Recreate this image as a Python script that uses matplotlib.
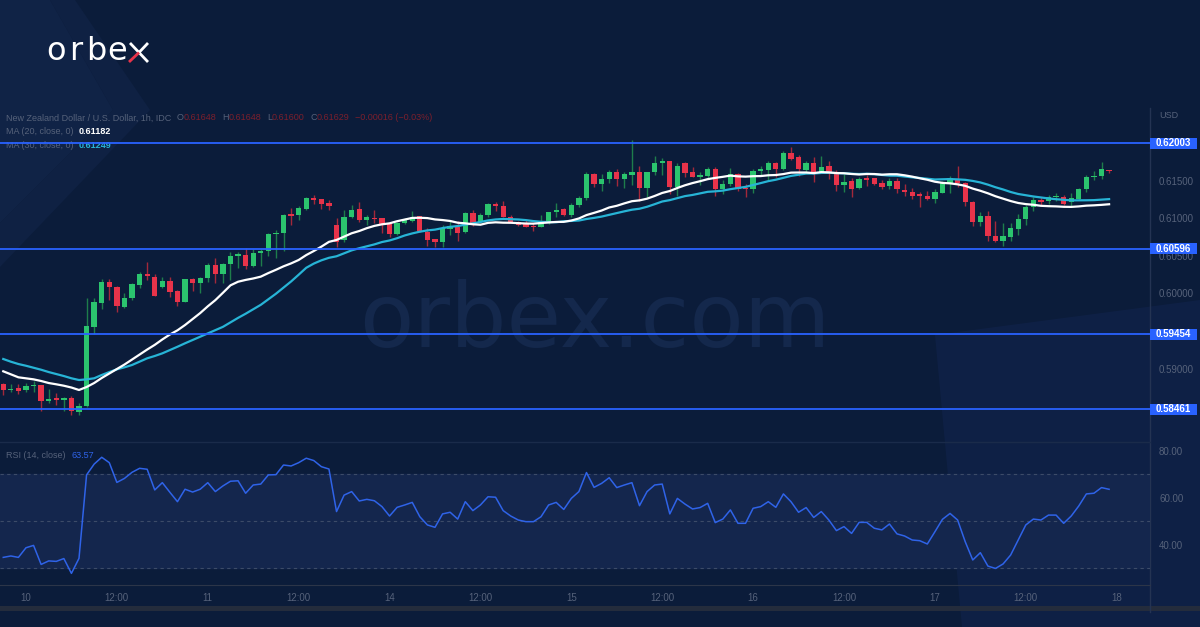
import numpy as np
import pandas as pd
import matplotlib
matplotlib.use("Agg")
import matplotlib.pyplot as plt
from matplotlib.patches import Polygon, Rectangle
from matplotlib.lines import Line2D

plt.rcParams['font.family'] = ['Liberation Sans', 'DejaVu Sans']

# NZD/USD, 1h candles (first three bars belong to the evening before the 10th)
open_ = [0.58794, 0.58710, 0.58736, 0.58710, 0.58767, 0.58780, 0.58571, 0.58603, 0.58581, 0.58603,
         0.58425, 0.58501, 0.59557, 0.59876, 0.60156, 0.60089, 0.59823, 0.59935, 0.60112, 0.60258,
         0.60223, 0.60089, 0.60165, 0.60032, 0.59890, 0.60188, 0.60143, 0.60201, 0.60378, 0.60254,
         0.60388, 0.60498, 0.60507, 0.60365, 0.60534, 0.60565, 0.60787, 0.60800, 0.61053, 0.61044,
         0.61124, 0.61274, 0.61253, 0.61208, 0.60911, 0.60711, 0.61021, 0.61124, 0.60977, 0.61008,
         0.61000, 0.60920, 0.60787, 0.60934, 0.60968, 0.61035, 0.60822, 0.60721, 0.60689, 0.60854,
         0.60888, 0.60822, 0.61075, 0.60955, 0.61044, 0.61191, 0.61164, 0.61013, 0.60951, 0.60934,
         0.60902, 0.60888, 0.60955, 0.61080, 0.61120, 0.61044, 0.61177, 0.61266, 0.61590, 0.61453,
         0.61519, 0.61621, 0.61523, 0.61577, 0.61621, 0.61408, 0.61617, 0.61733, 0.61763, 0.61421,
         0.61733, 0.61621, 0.61546, 0.61567, 0.61653, 0.61386, 0.61457, 0.61590, 0.61408, 0.61386,
         0.61630, 0.61643, 0.61733, 0.61657, 0.61874, 0.61820, 0.61643, 0.61733, 0.61607, 0.61697,
         0.61586, 0.61444, 0.61497, 0.61400, 0.61533, 0.61533, 0.61466, 0.61430, 0.61497, 0.61377,
         0.61354, 0.61320, 0.61301, 0.61257, 0.61341, 0.61466, 0.61523, 0.61466, 0.61221, 0.60947,
         0.61031, 0.60768, 0.60702, 0.60755, 0.60854, 0.60987, 0.61147, 0.61244, 0.61235, 0.61280,
         0.61280, 0.61221, 0.61257, 0.61390, 0.61554, 0.61563, 0.61648]
high = [0.58807, 0.58794, 0.58794, 0.58811, 0.58834, 0.58780, 0.58727, 0.58670, 0.58617, 0.58638,
        0.58537, 0.59935, 0.59935, 0.60188, 0.60188, 0.60099, 0.60001, 0.60135, 0.60289, 0.60422,
        0.60254, 0.60223, 0.60223, 0.60045, 0.60192, 0.60201, 0.60223, 0.60401, 0.60468, 0.60409,
        0.60555, 0.60555, 0.60601, 0.60587, 0.60587, 0.60800, 0.60844, 0.61057, 0.61133, 0.61164,
        0.61288, 0.61310, 0.61253, 0.61244, 0.61000, 0.61111, 0.61177, 0.61221, 0.61044, 0.61111,
        0.61000, 0.60920, 0.60955, 0.61000, 0.61101, 0.61035, 0.60867, 0.60721, 0.60911, 0.60964,
        0.60964, 0.61088, 0.61111, 0.61067, 0.61200, 0.61213, 0.61227, 0.61044, 0.60968, 0.60977,
        0.60934, 0.61044, 0.61088, 0.61208, 0.61141, 0.61208, 0.61297, 0.61621, 0.61599, 0.61586,
        0.61643, 0.61653, 0.61621, 0.62043, 0.61697, 0.61621, 0.61830, 0.61799, 0.61763, 0.61733,
        0.61754, 0.61687, 0.61621, 0.61687, 0.61687, 0.61510, 0.61674, 0.61607, 0.61453, 0.61653,
        0.61697, 0.61763, 0.61754, 0.61896, 0.61946, 0.61843, 0.61763, 0.61812, 0.61830, 0.61763,
        0.61643, 0.61586, 0.61541, 0.61550, 0.61577, 0.61533, 0.61510, 0.61533, 0.61533, 0.61453,
        0.61400, 0.61354, 0.61364, 0.61390, 0.61497, 0.61563, 0.61697, 0.61480, 0.61235, 0.61088,
        0.61097, 0.60964, 0.60934, 0.60934, 0.61053, 0.61177, 0.61288, 0.61288, 0.61310, 0.61333,
        0.61310, 0.61333, 0.61408, 0.61577, 0.61634, 0.61746, 0.61648]
low = [0.58647, 0.58687, 0.58661, 0.58683, 0.58687, 0.58438, 0.58541, 0.58514, 0.58438, 0.58381,
       0.58381, 0.58483, 0.59460, 0.59788, 0.59912, 0.59756, 0.59802, 0.59912, 0.60068, 0.60179,
       0.59966, 0.60068, 0.59948, 0.59832, 0.59882, 0.60036, 0.60009, 0.60156, 0.60135, 0.60135,
       0.60179, 0.60334, 0.60321, 0.60348, 0.60365, 0.60498, 0.60468, 0.60569, 0.60911, 0.60977,
       0.61111, 0.61187, 0.61120, 0.61111, 0.60622, 0.60689, 0.61000, 0.60955, 0.60911, 0.60934,
       0.60800, 0.60755, 0.60778, 0.60920, 0.60955, 0.60822, 0.60631, 0.60614, 0.60614, 0.60778,
       0.60702, 0.60800, 0.60898, 0.60934, 0.61021, 0.61101, 0.61013, 0.60947, 0.60898, 0.60880,
       0.60835, 0.60888, 0.60924, 0.61021, 0.61035, 0.61021, 0.61147, 0.61244, 0.61413, 0.61368,
       0.61466, 0.61430, 0.61400, 0.61444, 0.61235, 0.61288, 0.61577, 0.61577, 0.61324, 0.61297,
       0.61554, 0.61546, 0.61444, 0.61533, 0.61301, 0.61324, 0.61430, 0.61368, 0.61288, 0.61333,
       0.61577, 0.61510, 0.61546, 0.61643, 0.61776, 0.61567, 0.61607, 0.61487, 0.61599, 0.61519,
       0.61368, 0.61354, 0.61288, 0.61390, 0.61430, 0.61444, 0.61386, 0.61386, 0.61333, 0.61301,
       0.61253, 0.61155, 0.61244, 0.61208, 0.61333, 0.61341, 0.61413, 0.61164, 0.60902, 0.60898,
       0.60702, 0.60689, 0.60631, 0.60702, 0.60778, 0.60911, 0.61101, 0.61177, 0.61191, 0.61235,
       0.61177, 0.61164, 0.61244, 0.61354, 0.61510, 0.61523, 0.61600]
close = [0.58714, 0.58727, 0.58704, 0.58771, 0.58780, 0.58571, 0.58594, 0.58581, 0.58603, 0.58438,
         0.58505, 0.59566, 0.59886, 0.60156, 0.60081, 0.59832, 0.59935, 0.60121, 0.60254, 0.60232,
         0.59966, 0.60165, 0.60023, 0.59890, 0.60188, 0.60143, 0.60201, 0.60378, 0.60254, 0.60388,
         0.60498, 0.60525, 0.60365, 0.60542, 0.60569, 0.60787, 0.60804, 0.61044, 0.61035, 0.61141,
         0.61274, 0.61244, 0.61187, 0.61168, 0.60689, 0.61021, 0.61111, 0.60977, 0.61013, 0.60995,
         0.60911, 0.60787, 0.60934, 0.60977, 0.61013, 0.60831, 0.60711, 0.60689, 0.60867, 0.60898,
         0.60808, 0.61075, 0.60942, 0.61044, 0.61187, 0.61168, 0.61013, 0.60955, 0.60911, 0.60888,
         0.60888, 0.60955, 0.61080, 0.61111, 0.61044, 0.61177, 0.61266, 0.61590, 0.61457, 0.61519,
         0.61621, 0.61523, 0.61586, 0.61621, 0.61408, 0.61621, 0.61733, 0.61763, 0.61421, 0.61697,
         0.61607, 0.61546, 0.61577, 0.61653, 0.61386, 0.61457, 0.61590, 0.61390, 0.61390, 0.61630,
         0.61653, 0.61733, 0.61657, 0.61874, 0.61790, 0.61657, 0.61733, 0.61607, 0.61687, 0.61607,
         0.61444, 0.61487, 0.61386, 0.61519, 0.61510, 0.61453, 0.61421, 0.61497, 0.61386, 0.61354,
         0.61301, 0.61301, 0.61257, 0.61354, 0.61480, 0.61533, 0.61466, 0.61213, 0.60947, 0.61031,
         0.60768, 0.60702, 0.60764, 0.60867, 0.60991, 0.61155, 0.61244, 0.61221, 0.61288, 0.61297,
         0.61191, 0.61274, 0.61390, 0.61554, 0.61567, 0.61657, 0.61629]

# moving-average values before a full window is available
ma20_head = [0.58963, 0.58923, 0.58883, 0.58870, 0.58856, 0.58834, 0.58807, 0.58790, 0.58771, 0.58747,
             0.58714, 0.58754, 0.58807, 0.58874, 0.58934, 0.58993, 0.59053, 0.59120, 0.59187]
ma30_head = [0.59127, 0.59091, 0.59060, 0.59037, 0.59011, 0.58984, 0.58953, 0.58927, 0.58900, 0.58870,
             0.58847, 0.58856, 0.58870, 0.58914, 0.58953, 0.58989, 0.59016, 0.59047, 0.59091, 0.59136,
             0.59167, 0.59202, 0.59246, 0.59290, 0.59336, 0.59380, 0.59424, 0.59469, 0.59513]

rsi = [34.6, 35.2, 34.6, 38.7, 39.7, 31.6, 33.1, 32.9, 34.1, 27.8,
       34.2, 69.7, 74.3, 77.2, 74.9, 66.5, 68.2, 70.8, 72.5, 72.1,
       63.3, 66.4, 62.3, 58.3, 63.6, 62.4, 63.6, 66.4, 62.6, 65.0,
       67.0, 67.2, 61.9, 65.4, 65.8, 69.7, 69.8, 73.9, 73.5, 74.9,
       76.8, 75.8, 73.2, 72.2, 54.1, 61.1, 62.6, 58.6, 59.3, 58.7,
       56.2, 52.2, 55.9, 56.9, 58.0, 51.9, 48.4, 47.4, 53.1, 53.8,
       50.9, 58.3, 54.5, 56.9, 60.4, 60.2, 54.5, 52.2, 50.5, 49.8,
       49.8, 51.9, 56.9, 58.0, 55.0, 59.7, 62.6, 70.7, 64.4, 66.1,
       68.5, 64.3, 65.4, 66.4, 56.6, 62.6, 65.4, 65.8, 53.1, 59.7,
       57.3, 55.2, 55.8, 57.6, 49.4, 50.9, 54.8, 49.1, 49.1, 55.5,
       56.2, 58.3, 55.9, 61.6, 58.3, 53.8, 55.8, 51.6, 54.1, 50.5,
       46.0, 47.7, 44.8, 49.5, 49.5, 47.0, 46.3, 48.8, 44.6, 43.7,
       42.0, 41.7, 40.3, 45.5, 50.8, 53.3, 50.5, 41.3, 33.5, 36.6,
       30.9, 29.9, 31.8, 35.6, 42.0, 48.4, 50.9, 50.5, 52.6, 52.6,
       49.1, 52.2, 56.5, 61.6, 61.9, 64.3, 63.57]

levels = [0.62003, 0.60596, 0.59454, 0.58461]
time_labels = ["10", "12:00", "11", "12:00", "14", "12:00", "15", "12:00",
               "16", "12:00", "17", "12:00", "18"]
# 0.585 / 0.595 / 0.620 sit under the level tags, so only these show
price_ticks = [0.590, 0.600, 0.605, 0.610, 0.615]
rsi_ticks = [40, 60, 80]
ma20_last, ma30_last = 0.61182, 0.61249
change, change_pct = -0.00016, -0.03

W, H = 1200, 627
BG = '#0b1c3a'
GRAY = '#56627a'
UP, DOWN = '#2bc46e', '#e8334a'
UP_WICK, DOWN_WICK = '#1e7d4b', '#a3283a'
LEVEL = '#2962ff'


def rect(x0, y0, x1, y1):
    # pixel box (origin top-left) -> figure fraction
    return [x0 / W, 1 - y1 / H, (x1 - x0) / W, (y1 - y0) / H]


o, h, l, c = map(np.array, (open_, high, low, close))
x = np.arange(len(c)) - 3
ma20 = pd.Series(c).rolling(20).mean().to_numpy()
ma20[:len(ma20_head)] = ma20_head
ma30 = pd.Series(c).rolling(30).mean().to_numpy()
ma30[:len(ma30_head)] = ma30_head

fig = plt.figure(figsize=(12, 6.27), dpi=100)
fig.patch.set_facecolor(BG)

# background decoration, watermark and logo
bg = fig.add_axes([0, 0, 1, 1])
bg.set_xlim(0, W)
bg.set_ylim(H, 0)
bg.axis('off')
bg.add_patch(Polygon([(0, 0), (50, 0), (113, 110), (0, 223)], closed=True, fc='#12254a', ec='none', alpha=0.8))
bg.add_patch(Polygon([(50, 0), (75, 0), (150, 110), (0, 267), (0, 223), (113, 110)], closed=True,
                     fc='#0f2143', ec='none'))
bg.add_patch(Polygon([(935, 335), (1200, 300), (1200, 627), (962, 627)], closed=True, fc='#10224a',
                     ec='none', alpha=0.7))
bg.text(595, 322, 'orbex.com', color='#14284c', fontsize=64, ha='center', va='center',
        family='DejaVu Sans')
for ch, cx in zip('orbe', (56, 76, 96, 117.5)):
    bg.text(cx, 52, ch, color='white', fontsize=23, ha='center', va='center', family='DejaVu Sans')
bg.add_line(Line2D([130, 148], [43, 62], color='white', lw=2.0, solid_capstyle='butt'))
bg.add_line(Line2D([139, 148], [52.5, 43], color='white', lw=2.0, solid_capstyle='butt'))
bg.add_line(Line2D([129, 139], [62, 52.5], color='#e8334a', lw=2.0, solid_capstyle='butt'))
bg.add_patch(Rectangle((0, 606), W, 5, fc='#242c3c', ec='none'))
bg.add_line(Line2D([1150, 1150], [108, 612], color='#243352', lw=1))
bg.add_line(Line2D([0, 1150], [441.5, 441.5], color='#1a2b4a', lw=1))

# price pane
ax = fig.add_axes(rect(0, 105, 1150, 441))
ax.set_facecolor('none')
ax.set_xlim(-3.43, 148.4)
ax.set_ylim(0.58035, 0.62509)
for s in ax.spines.values():
    s.set_visible(False)
ax.set_xticks([])
ax.yaxis.tick_right()
ax.set_yticks(price_ticks)
ax.set_yticklabels([f'{p:.5f}' for p in price_ticks])
ax.tick_params(axis='y', length=0, pad=6.5, labelsize=7, labelcolor=GRAY)

up = c >= o
ax.vlines(x, l, h, colors=np.where(up, UP_WICK, DOWN_WICK), lw=1, zorder=2)
ax.bar(x, np.maximum(np.abs(c - o), 0.00012), bottom=np.minimum(o, c), width=0.7,
       color=np.where(up, UP, DOWN), zorder=3)
ax.plot(x, ma30, color='#27b4d6', lw=1.6, zorder=4)
ax.plot(x, ma20, color='white', lw=1.6, zorder=5)

half = 5.5 * (0.62509 - 0.58035) / 336
for lv in levels:
    ax.axhline(lv, color=LEVEL, lw=1.3, zorder=6)
    ax.add_patch(Rectangle((1.0, lv - half), 47 / 1150, 2 * half, transform=ax.get_yaxis_transform(),
                           fc=LEVEL, ec='none', clip_on=False, zorder=7))
    ax.text(1.0 + 23.5 / 1150, lv, f'{lv:.5f}', transform=ax.get_yaxis_transform(), ha='center',
            va='center', color='white', fontsize=7, fontweight='bold', zorder=8, clip_on=False)

# RSI pane
rax = fig.add_axes(rect(0, 442, 1150, 585))
rax.set_facecolor('none')
rax.set_xlim(-3.43, 148.4)
rax.set_ylim(22.85, 83.7)
rax.axhspan(30, 70, color='#14264d', zorder=0)
for v in (30, 50, 70):
    rax.axhline(v, color='#3c4b68', lw=0.8, ls=(0, (3, 3)), zorder=1)
rax.plot(x, rsi, color='#2f63e8', lw=1.1, zorder=3)
for k, s in rax.spines.items():
    s.set_visible(k == 'bottom')
rax.spines['bottom'].set_color('#2c3548')
rax.yaxis.tick_right()
rax.set_yticks(rsi_ticks)
rax.set_yticklabels([f'{v:.2f}' for v in rsi_ticks])
rax.set_xticks(np.arange(len(time_labels)) * 12)
rax.set_xticklabels(time_labels)
rax.tick_params(axis='y', length=0, pad=6.5, labelsize=7, labelcolor=GRAY)
rax.tick_params(axis='x', length=0, pad=5.5, labelsize=7, labelcolor=GRAY)

# legends


def chain(x0, y0, parts, size=6.5):
    prev = bg.text(x0, y0, parts[0][0], color=parts[0][1], fontsize=size, fontweight=parts[0][2],
                   ha='left', va='center')
    for txt, col, wt, gap in parts[1:]:
        prev = bg.annotate(txt, xy=(1, 0.5), xycoords=prev, xytext=(gap, 0), textcoords='offset points',
                           color=col, fontsize=size, fontweight=wt, ha='left', va='center')


RED_T = '#7c1f2c'
chain(6, 118, [("New Zealand Dollar / U.S. Dollar, 1h, IDC", GRAY, 'normal'),
               ("O", GRAY, 'normal', 4), (f"{o[-1]:.5f}", RED_T, 'normal', 0),
               ("H", GRAY, 'normal', 4), (f"{h[-1]:.5f}", RED_T, 'normal', 0),
               ("L", GRAY, 'normal', 4), (f"{l[-1]:.5f}", RED_T, 'normal', 0),
               ("C", GRAY, 'normal', 4), (f"{c[-1]:.5f}", RED_T, 'normal', 0),
               (f"{change:.5f} ({change_pct:.2f}%)".replace('-', '\u2212'), RED_T, 'normal', 4)])
chain(6, 132, [("MA (20, close, 0)", GRAY, 'normal'), (f"{ma20_last:.5f}", 'white', 'bold', 4)])
chain(6, 146, [("MA (30, close, 0)", GRAY, 'normal'), (f"{ma30_last:.5f}", '#27b4d6', 'bold', 4)])
chain(6, 456, [("RSI (14, close)", GRAY, 'normal'), (f"{rsi[-1]:.2f}", '#2f63e8', 'normal', 4)])
bg.text(1159, 116, 'USD', color=GRAY, fontsize=6.5, ha='left', va='center')

fig.savefig('out.png', dpi=100, facecolor=fig.get_facecolor())
